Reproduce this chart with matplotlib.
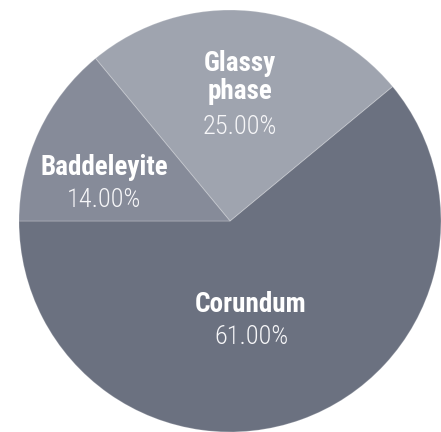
import matplotlib
matplotlib.use("Agg")
import matplotlib.pyplot as plt

categories = ["Corundum", "Glassy\nphase", "Baddeleyite"]
values = [61.0, 25.0, 14.0]
colors = ["#6b7180", "#9fa4af", "#868b99"]

W, H = 441, 432
fig = plt.figure(figsize=(W / 100, H / 100), dpi=100)
ax = fig.add_axes([0, 0, 1, 1])

R = 211.0
cx, cy = 230.0, 221.0  # pixel center (from top-left)

ax.pie(values, colors=colors, startangle=180, counterclock=True,
       radius=1.0, center=(0, 0),
       wedgeprops=dict(edgecolor=(1, 1, 1, 0.2), linewidth=0.8))

ax.set_xlim(-cx / R, (W - cx) / R)
ax.set_ylim(-(H - cy) / R, cy / R)
ax.set_aspect("equal")
ax.axis("off")


def px(x, y):
    return (x - cx) / R, (cy - y) / R


fam = ["Roboto Condensed", "Liberation Sans Narrow", "Roboto", "DejaVu Sans"]
# label placement (pixel coordinates: center x, baselines)
label_pos = {
    "Corundum": (251, [312], 344),
    "Glassy\nphase": (240, [71, 99], 134),
    "Baddeleyite": (104, [175], 207),
}
for cat, val in zip(categories, values):
    x, bls, pbl = label_pos[cat]
    for line, bl in zip(cat.split("\n"), bls):
        ax.text(*px(x, bl), line, ha="center", va="baseline", color="white",
                fontsize=19.5, fontweight="bold", family=fam)
    ax.text(*px(x, pbl), f"{val:.2f}%", ha="center", va="baseline",
            color="#f6f6f8", fontsize=19, fontweight="light", family=fam)

fig.savefig("out.png", dpi=100)
